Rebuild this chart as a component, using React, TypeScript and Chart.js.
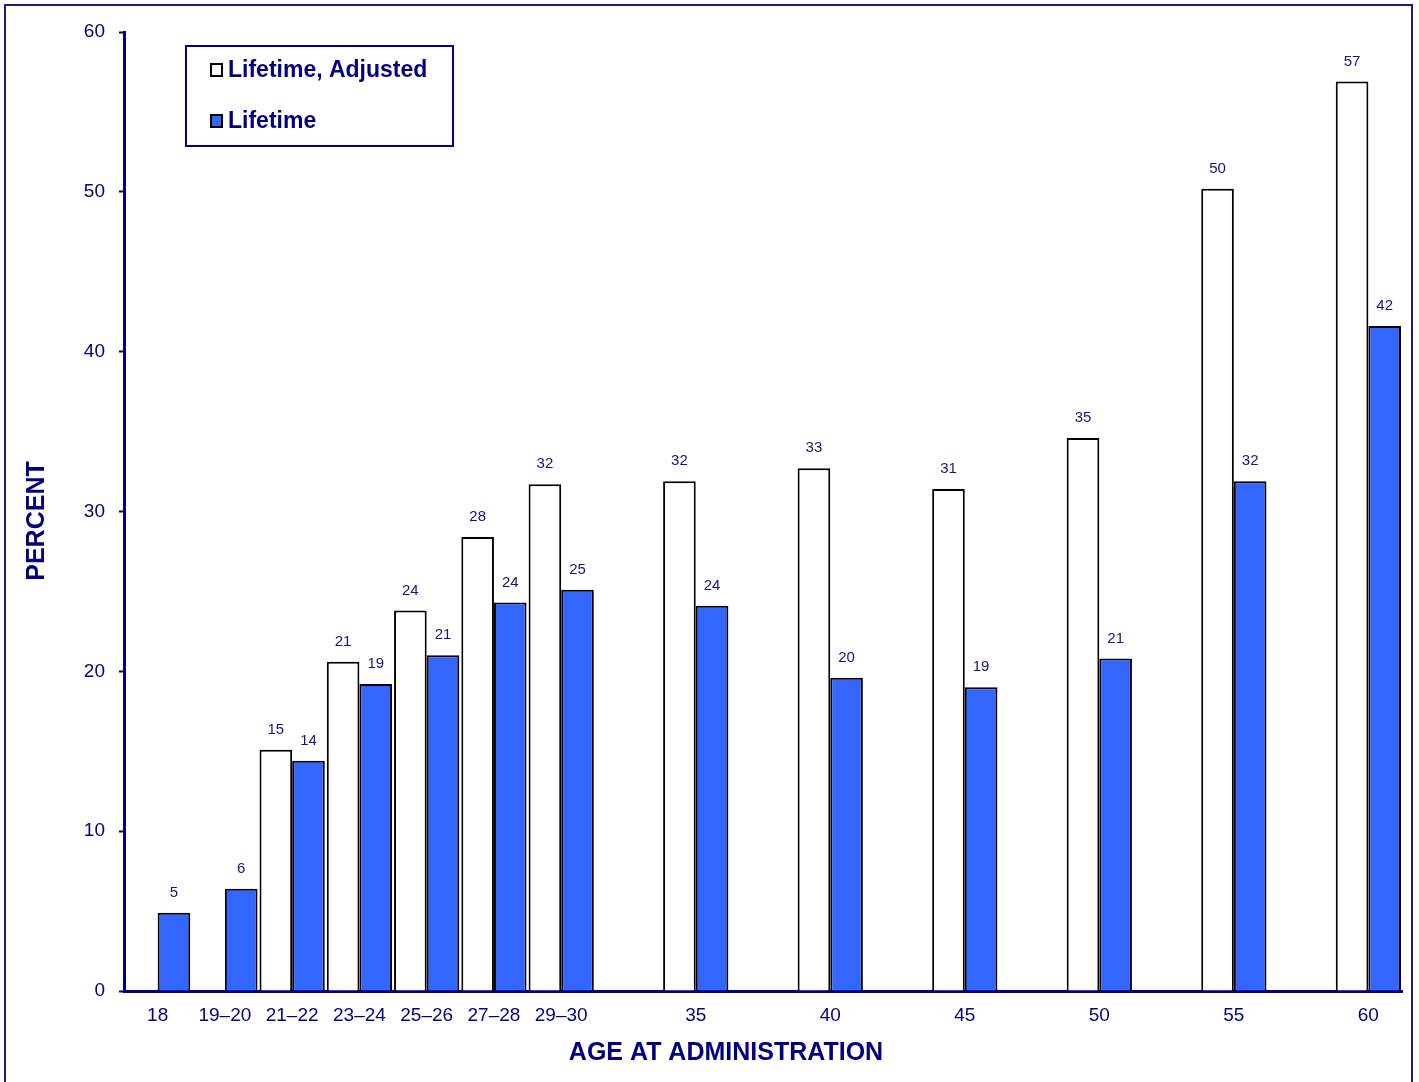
import React, { useEffect, useRef } from "react";
import { Chart, registerables } from "chart.js";

Chart.register(...registerables);

// Category slots ('' = empty spacing slot between 5-year ages)
const categories = [
  "18", "19–20", "21–22", "23–24", "25–26", "27–28", "29–30",
  "", "35", "", "40", "", "45", "", "50", "", "55", "", "60",
];
const lifetimeAdjusted = [
  null, null, 15.1, 20.6, 23.8, 28.4, 31.7,
  null, 31.9, null, 32.7, null, 31.4, null, 34.6, null, 50.2, null, 56.9,
];
const lifetime = [
  4.9, 6.4, 14.4, 19.2, 21.0, 24.3, 25.1,
  null, 24.1, null, 19.6, null, 19.0, null, 20.8, null, 31.9, null, 41.6,
];
const seriesNames = ["Lifetime, Adjusted", "Lifetime"];
const seriesColors = ["#FFFFFF", "#3366FF"];
const yTicks = [0, 10, 20, 30, 40, 50, 60];
const xTitle = "AGE AT ADMINISTRATION";
const yTitle = "PERCENT";

const NAVY = "#000080";
const TEXT = "#14147a";
const FONT = "'Liberation Sans', Arial, sans-serif";

const decorPlugin = {
  id: "decor",
  beforeDraw(chart: any) {
    const ctx = chart.ctx;
    ctx.save();
    ctx.fillStyle = "#fff";
    ctx.fillRect(0, 0, chart.width, chart.height);
    ctx.strokeStyle = "#1c1c80";
    ctx.lineWidth = 2;
    ctx.beginPath();
    ctx.moveTo(5, 1082);
    ctx.lineTo(5, 5);
    ctx.lineTo(1412, 5);
    ctx.lineTo(1412, 1082);
    ctx.stroke();
    ctx.restore();
  },
  afterDraw(chart: any) {
    const ctx = chart.ctx;
    ctx.save();
    // value labels
    ctx.fillStyle = TEXT;
    ctx.font = `15px ${FONT}`;
    ctx.textAlign = "center";
    ctx.textBaseline = "middle";
    chart.data.datasets.forEach((ds: any, di: number) => {
      const meta = chart.getDatasetMeta(di);
      meta.data.forEach((bar: any, i: number) => {
        const v = ds.data[i];
        if (v === null || v === undefined) return;
        ctx.fillText(String(Math.round(v)), bar.x, bar.y - 20);
      });
    });
    // axis titles
    ctx.fillStyle = NAVY;
    ctx.font = `bold 25px ${FONT}`;
    ctx.fillText(xTitle, 726, 1053);
    ctx.save();
    ctx.translate(37, 521);
    ctx.rotate(-Math.PI / 2);
    ctx.fillText(yTitle, 0, 0);
    ctx.restore();
    // legend
    ctx.strokeStyle = NAVY;
    ctx.lineWidth = 2;
    ctx.strokeRect(186, 46, 267, 100);
    ctx.font = `bold 23px ${FONT}`;
    ctx.textAlign = "left";
    const rows = [70, 121];
    seriesNames.forEach((name, i) => {
      ctx.fillStyle = seriesColors[i];
      ctx.fillRect(211, rows[i] - 6, 11, 12);
      ctx.strokeStyle = "#000";
      ctx.lineWidth = 2;
      ctx.strokeRect(211, rows[i] - 6, 11, 12);
      ctx.fillStyle = NAVY;
      ctx.fillText(name, 228, rows[i] + 1);
    });
    ctx.restore();
  },
};

export default function App() {
  const ref = useRef<HTMLCanvasElement | null>(null);
  useEffect(() => {
    if (!ref.current) return;
    const chart = new Chart(ref.current, {
      type: "bar",
      data: {
        labels: categories,
        datasets: [
          {
            label: seriesNames[0],
            data: lifetimeAdjusted,
            backgroundColor: seriesColors[0],
            borderColor: "#000",
            borderWidth: 2,
            borderSkipped: "bottom",
          },
          {
            label: seriesNames[1],
            data: lifetime,
            backgroundColor: seriesColors[1],
            borderColor: "#000",
            borderWidth: 2,
            borderSkipped: "bottom",
          },
        ],
      },
      options: {
        responsive: false,
        animation: false,
        events: [],
        layout: { padding: { top: 32, right: 17, left: 0, bottom: 0 } },
        datasets: { bar: { categoryPercentage: 0.97, barPercentage: 1, skipNull: false } },
        plugins: {
          legend: { display: false },
          tooltip: { enabled: false },
        },
        scales: {
          x: {
            grid: { display: false, drawTicks: false },
            border: { display: true, color: NAVY, width: 3 },
            ticks: {
              color: NAVY,
              font: { family: FONT, size: 19 },
              padding: 13,
              autoSkip: false,
              maxRotation: 0,
            },
            afterFit: (s: any) => {
              s.height = 1082 - 991;
            },
          },
          y: {
            min: 0,
            max: 60,
            afterBuildTicks: (s: any) => {
              s.ticks = yTicks.map((v) => ({ value: v }));
            },
            grid: {
              drawOnChartArea: false,
              drawTicks: true,
              tickLength: 5,
              color: NAVY,
              tickWidth: 2,
            },
            border: { display: true, color: NAVY, width: 3 },
            ticks: {
              color: NAVY,
              font: { family: FONT, size: 19 },
              padding: 14,
            },
            afterFit: (s: any) => {
              s.width = 124;
            },
          },
        },
      },
      plugins: [decorPlugin],
    });
    return () => chart.destroy();
  }, []);
  return (
    <div style={{ position: "absolute", left: 0, top: 0, width: 1419, height: 1082 }}>
      <canvas ref={ref} width={1419} height={1082} style={{ display: "block" }} />
    </div>
  );
}
